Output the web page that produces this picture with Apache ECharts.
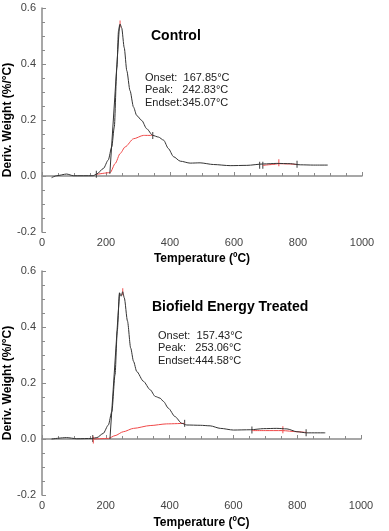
<!DOCTYPE html>
<html><head><meta charset="utf-8">
<script src="https://cdn.jsdelivr.net/npm/echarts@6/dist/echarts.min.js"></script>
<style>html,body{margin:0;padding:0;background:#fff}#c{width:389px;height:531px}</style>
</head><body><div id="c"></div>
<script>
// Control (top panel)
const controlCurve = [[30,-0.006],[46,0.001],[77,0.007],[98,0.001],[160,0.001],[171,0.007],[192,0.027],[207,0.057],[218,0.104],[226,0.175],[234,0.387],[239,0.517],[244,0.543],[249,0.529],[257,0.458],[265,0.376],[275,0.305],[286,0.246],[296,0.216],[312,0.198],[327,0.169],[346,0.145],[364,0.139],[380,0.128],[395,0.098],[411,0.069],[432,0.053],[463,0.046],[494,0.047],[536,0.041],[588,0.037],[640,0.038],[692,0.043],[734,0.045],[776,0.044],[807,0.040],[849,0.039],[893,0.039]];
const controlBase1 = [[171,0.006],[213,0.012],[229,0.045],[244,0.08],[260,0.104],[286,0.133],[317,0.145],[346,0.145]];
const controlBase2 = [[690,0.038],[720,0.041],[740,0.044],[770,0.043],[797,0.041]];
const controlTangent = [[212,0.008],[242,0.538]];
const controlMarksBlack = [[170,0.006],[346,0.145],[680,0.038],[690,0.038],[797,0.042]];
const controlMarksRed = [[244,0.543],[740,0.047]];
const controlLines = ['Onset:  167.85°C','Peak:   242.83°C','Endset:345.07°C'];

// Biofield Energy Treated (bottom panel)
const treatedCurve = [[30,0.0],[77,0.005],[109,0.001],[156,0.002],[172,0.005],[192,0.02],[208,0.05],[219,0.098],[229,0.23],[236,0.385],[243,0.522],[248,0.51],[253,0.526],[258,0.504],[268,0.421],[278,0.325],[287,0.277],[297,0.241],[318,0.206],[339,0.176],[355,0.152],[370,0.146],[381,0.134],[396,0.11],[417,0.08],[438,0.056],[454,0.05],[496,0.049],[527,0.047],[559,0.038],[600,0.032],[653,0.033],[695,0.037],[736,0.038],[768,0.036],[799,0.026],[830,0.022],[888,0.022]];
const treatedBase1 = [[161,0.0],[208,0.002],[229,0.012],[255,0.026],[287,0.038],[339,0.048],[391,0.054],[447,0.056]];
const treatedBase2 = [[658,0.030],[700,0.030],[753,0.030],[800,0.026],[830,0.023]];
const treatedTangent = [[213,0.0],[243,0.522]];
const treatedMarksBlack = [[159,0.002],[447,0.056],[658,0.032],[828,0.022]];
const treatedMarksRed = [[253,0.526],[755,0.033],[161,-0.004]];
const treatedLines = ['Onset:  157.43°C','Peak:   253.06°C','Endset:444.58°C'];

const xTicks = [0,200,400,600,800,1000];
const yTicks = [-0.2,0.0,0.2,0.4,0.6];

const FONT = 'Liberation Sans, Arial, sans-serif';
const BLACK = '#333333', RED = '#f04848';

function xAxis(gi, gap){
  return {type:'value', gridIndex:gi, min:xTicks[0], max:xTicks[xTicks.length-1], interval:xTicks[1]-xTicks[0],
    name:'Temperature (ºC)', nameLocation:'middle', nameGap:gap, nameMoveOverlap:false,
    nameTextStyle:{fontFamily:FONT, fontWeight:'bold', fontSize:12, color:'#000'},
    axisLine:{lineStyle:{color:'#8a8a8a', width:1.5}},
    axisTick:{inside:true, length:4, lineStyle:{color:'#8a8a8a'}},
    minorTick:{show:true, splitNumber:4, length:3, lineStyle:{color:'#8a8a8a'}},
    axisLabel:{fontFamily:FONT, fontSize:11, color:'#444', margin:5, formatter:v=>String(v)},
    splitLine:{show:false}};
}
function yAxis(gi){
  return {type:'value', gridIndex:gi, min:yTicks[0], max:yTicks[yTicks.length-1], interval:0.2,
    name:'Deriv. Weight (%/°C)', nameLocation:'middle', nameGap:28, nameRotate:90, nameMoveOverlap:false,
    nameTextStyle:{fontFamily:FONT, fontWeight:'bold', fontSize:12, color:'#000'},
    axisLine:{show:true, lineStyle:{color:'#8a8a8a', width:1.5}},
    axisTick:{show:true, inside:true, length:4, lineStyle:{color:'#8a8a8a'}},
    minorTick:{show:true, splitNumber:4, length:3, lineStyle:{color:'#8a8a8a'}},
    axisLabel:{fontFamily:FONT, fontSize:11, color:'#444', margin:6, formatter:v=>v.toFixed(1)},
    splitLine:{show:false}};
}
function line(data, gi, color){
  return {type:'line', xAxisIndex:gi, yAxisIndex:gi, data, showSymbol:false, smooth:0.25, smoothMonotone:'x',
    lineStyle:{color, width:1}, silent:true, animation:false};
}
function marks(data, gi, color){
  return {type:'scatter', xAxisIndex:gi, yAxisIndex:gi, data, symbol:'rect', symbolSize:[1.2,7],
    itemStyle:{color}, silent:true, animation:false};
}

const chart = echarts.init(document.getElementById('c'), null, {renderer:'canvas'});
chart.setOption({
  animation:false,
  grid:[{left:42, top:8, width:320, height:224, containLabel:false, outerBoundsMode:'none'},
        {left:42, top:271, width:319, height:224, containLabel:false, outerBoundsMode:'none'}],
  xAxis:[xAxis(0,21), xAxis(1,22)],
  yAxis:[yAxis(0), yAxis(1)],
  series:[
    line(controlBase1,0,RED), line(controlBase2,0,RED), line(controlCurve,0,BLACK),
    {...line(controlTangent,0,BLACK), smooth:false},
    marks(controlMarksBlack,0,BLACK), marks(controlMarksRed,0,RED),
    line(treatedBase1,1,RED), line(treatedBase2,1,RED), line(treatedCurve,1,BLACK),
    {...line(treatedTangent,1,BLACK), smooth:false},
    marks(treatedMarksBlack,1,BLACK), marks(treatedMarksRed,1,RED)
  ],
  graphic:[
    {type:'text', left:151, top:29, style:{text:'Control', font:'bold 14px '+FONT, fill:'#000'}},
    ...controlLines.map((t,i)=>({type:'text', left:145, top:72+i*12.5, style:{text:t, font:'11px '+FONT, fill:'#222'}})),
    {type:'text', left:152, top:300, style:{text:'Biofield Energy Treated', font:'bold 14px '+FONT, fill:'#000'}},
    ...treatedLines.map((t,i)=>({type:'text', left:158, top:330+i*12.5, style:{text:t, font:'11px '+FONT, fill:'#222'}}))
  ]
});
</script></body></html>
